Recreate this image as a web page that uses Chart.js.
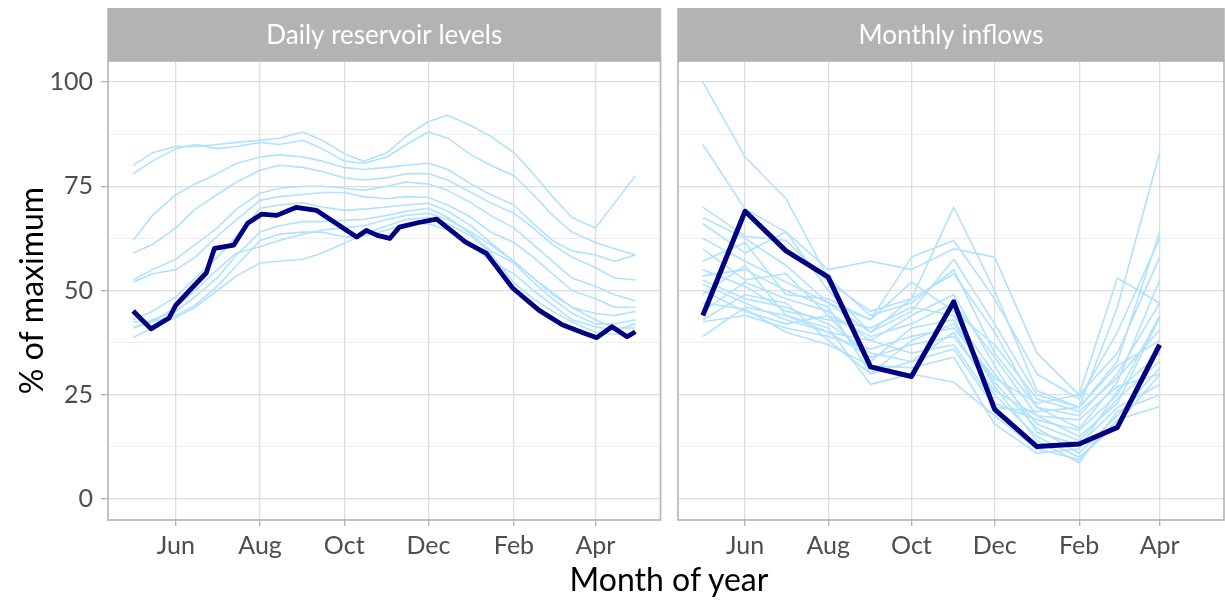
<!DOCTYPE html>
<html>
<head>
<meta charset="utf-8">
<script src="https://cdn.jsdelivr.net/npm/chart.js@4.4.1/dist/chart.umd.min.js"></script>
<style>
  html, body { margin: 0; padding: 0; background: #ffffff; }
  #wrap { position: relative; width: 1225px; height: 600px; background: #ffffff; overflow: hidden; }
  #c1 { position: absolute; left: 0; top: 0; }
  #c2 { position: absolute; left: 668px; top: 0; }
  #xtitle { position: absolute; left: 0; width: 1338px; top: 560px; text-align: center;
            font-family: Lato, "Open Sans", sans-serif; font-size: 32px; color: #000; line-height: 38px; }
</style>
</head>
<body>
<div id="wrap">
  <canvas id="c1" width="668" height="600"></canvas>
  <canvas id="c2" width="557" height="600"></canvas>
  <div id="xtitle">Month of year</div>
</div>
<script>
// ---------------- data ----------------
const panelTitles = ['Daily reservoir levels', 'Monthly inflows'];
const yAxisTitle = '% of maximum';
const tickDays = [31, 92, 153, 214, 276, 335];            // day of year starting 1 May
const tickLabels = ['Jun', 'Aug', 'Oct', 'Dec', 'Feb', 'Apr'];
const yMajorTicks = [0, 25, 50, 75, 100];

// Daily reservoir levels (days since 1 May), sampled roughly twice a month
const levelDays = [0,14,31,45,61,75,92,106,123,137,153,167,184,198,214,228,245,259,276,290,304,318,335,349,364];
const levelA = [80,83,84.5,84.5,85,85.5,86,86.5,88,86,82.8,81,83,87,90.5,92,89.5,87,83,78,72.5,67.5,65,71,77.5];
const levelB = [78,81,84,85,84,84.5,85.5,85,86,84,81,80.5,82,85,88,86.5,82.5,80,77.5,73,68,64,61.5,60,58.5];
const levelC = [62,68,73,75.5,78,80.5,82,82.5,82,81,79.5,79,79.5,80,80.5,79,75.5,73,70.5,66,62,59.5,58.5,57,58.5];
const levelD = [59,61,65,69.5,73,76,78.8,80,79.5,78.5,77,76.5,77,78,78,76.5,73.5,71,68.5,65,61,58,55.5,53,52.5];
const levelE = [52.5,55,57.5,61,65,69.5,73.3,74.5,75,75,74.5,74,75,76,75.5,74,71,68,65,61,57,53,51,49,47.5];
const levelF = [52,54,55,58,63,67,71.6,72.5,73,73.5,73.5,72.5,72,72.5,72.3,70.5,67.5,64,61.5,58,54,50,48,46,46];
const levelG = [43,45,48.5,53,58,63,69.7,70.5,71,70,69.2,69.5,70,70.5,70.9,69,65.5,61.5,57,53,49,46,44.5,44,45];
const levelH = [41,43,45,48.5,53,58.5,64,65.5,66.5,66.5,66.8,67,68,69,69.7,67.5,63.5,59.5,56.6,52,48,44.5,42,42,43];
const levelI = [41,42.5,44,46.5,51,56,62,63.5,64,64,62.8,63,64.5,66,66,64.5,61,57,54,50,46.5,43,41.3,40.5,42];
const levelJ = [38.7,41,43.5,46,50,53.5,56.6,57,57.5,59,61.3,63.5,65.5,67,67.5,66,63,59,51.8,48,45,42.5,40,39.5,39.5];
const levelK = [42.5,42.5,46,50,55,59,60.5,62,63.5,64.5,65,65.5,67,68,68.5,67,64,61,57,53,49.5,46,43,41,41];

// Highlighted year, daily levels
const currentDays = [0,13,26,31,46,53,59,73,83,93,104,118,133,144,162,169,177,186,193,207,220,241,256,275,294,311,326,336,347,358,364];
const currentLevels = [45.1,40.8,43.4,46.5,51.8,54.2,60.1,60.9,66.1,68.3,68.0,69.9,69.2,66.8,62.8,64.4,63.2,62.5,65.2,66.3,67.1,61.6,58.9,50.6,45.3,41.8,39.9,38.7,41.3,38.9,40.1];

// Monthly inflows (first of each month, May..Apr)
const inflowDays = [0,31,61,92,123,153,184,214,245,276,304,335];
const inflow01 = [100,82,72,53,44,47,55,35,22,20,30,47];
const inflow02 = [85,69.5,64,50,40,45,57.5,42,25,22,46,83];
const inflow03 = [70,63,62,52,45,48,70,50,26,22,33,64];
const inflow04 = [67.5,62.5,56,47,43,58,62,48,30,24,40,62.5];
const inflow05 = [66,59,64,55,57,55,60,58,35,25,53,47];
const inflow06 = [62.5,57,52,47,40,48,54,40,22,17,28,52.5];
const inflow07 = [60,52.5,54,44,39,42,47,34,20,15,23,43.5];
const inflow08 = [57,61.5,49,48,43,52,45,37,24,21,29,40.6];
const inflow09 = [55,51,45,43,41,46,44,30,18,14,24,33];
const inflow10 = [53.5,55,50,46,30,38,42,28,17,11,20,31.5];
const inflow11 = [52.5,48,46,42,35,33,40,25,15,10,18,29.8];
const inflow12 = [51.5,47,43,40,38,44,49,32,16,13,22,27.4];
const inflow13 = [50,45,42,44,33,41,43,27,14,8.8,21,25];
const inflow14 = [49,56,44,41,27.5,30,28,20,12,9.5,19,22.2];
const inflow15 = [47,45.5,40,37,32,31.5,34,18,11,12,26,35];
const inflow16 = [45,52,48,45,38,35,37,23,19,16.5,25,44];
const inflow17 = [43,49,47,38,30,33,36,22,21,22,32,38];
const inflow18 = [42.5,44,41,39,36,39,41,29,23,25,35,58];
const inflow19 = [39,46,44,40,34,37,39,26,20,19,27,30];
const currentInflow = [44,69,59.5,53.2,31.7,29.4,47.3,21.5,12.6,13.2,17.2,37];

// ---------------- styling ----------------
const FONT = 'Lato, "Open Sans", sans-serif';
const LIGHT = '#B0E2FF';
const DARK = '#000080';
const BORDER = '#B3B3B3';
const X_MIN = -18.2, X_MAX = 382.2;

function pts(xs, ys) { return xs.map((x, i) => ({ x: x, y: ys[i] })); }

function lightSet(xs, ys) {
  return { data: pts(xs, ys), borderColor: LIGHT, borderWidth: 1.6, pointRadius: 0,
           tension: 0, borderJoinStyle: 'round', order: 1 };
}
function darkSet(xs, ys, w) {
  return { data: pts(xs, ys), borderColor: DARK, borderWidth: w, pointRadius: 0,
           tension: 0, borderJoinStyle: 'round', borderCapStyle: 'butt', order: 0 };
}

const stripPlugin = {
  id: 'strip',
  beforeDraw(chart, args, opts) {
    const ca = chart.chartArea, ctx = chart.ctx;
    ctx.save();
    ctx.fillStyle = BORDER;
    ctx.fillRect(ca.left - 0.75, 8, ca.right - ca.left + 1.5, ca.top - 8);
    ctx.fillStyle = '#ffffff';
    ctx.font = '26px ' + FONT;
    ctx.textAlign = 'center';
    ctx.textBaseline = 'middle';
    ctx.fillText(opts.text, (ca.left + ca.right) / 2, (8 + ca.top) / 2 + 1);
    ctx.restore();
  },
  afterDraw(chart) {
    const ca = chart.chartArea, ctx = chart.ctx;
    ctx.save();
    ctx.strokeStyle = BORDER;
    ctx.lineWidth = 1.6;
    ctx.strokeRect(ca.left, ca.top, ca.right - ca.left, ca.bottom - ca.top);
    ctx.restore();
  }
};

const yAllTicks = [0, 12.5, 25, 37.5, 50, 62.5, 75, 87.5, 100];
function isMajorY(v) { return yMajorTicks.indexOf(v) >= 0; }

function makeOptions(showY, stripText, padRight) {
  return {
    responsive: false,
    animation: false,
    devicePixelRatio: 1,
    layout: { padding: { top: 61, right: padRight, bottom: 0, left: 0 } },
    plugins: { legend: { display: false }, tooltip: { enabled: false }, strip: { text: stripText } },
    scales: {
      x: {
        type: 'linear', min: X_MIN, max: X_MAX,
        afterBuildTicks(scale) { scale.ticks = tickDays.map(v => ({ value: v })); },
        afterFit(scale) { scale.height = 80; },
        ticks: {
          autoSkip: false, maxRotation: 0, padding: 5, color: '#4D4D4D',
          font: { family: FONT, size: 25 },
          callback(v) { const i = tickDays.indexOf(v); return i >= 0 ? tickLabels[i] : ''; }
        },
        grid: { color: '#DEDEDE', lineWidth: 1.3, tickColor: BORDER, tickLength: 6, drawTicks: true },
        border: { display: false }
      },
      y: {
        type: 'linear', min: -5, max: 105,
        afterBuildTicks(scale) { scale.ticks = yAllTicks.map(v => ({ value: v })); },
        afterFit(scale) { scale.width = showY ? 108 : 10; },
        ticks: {
          display: showY, autoSkip: false, padding: 8, color: '#4D4D4D',
          font: { family: FONT, size: 25 },
          callback(v) { return isMajorY(v) ? String(v) : ''; }
        },
        grid: {
          color: ctx => isMajorY(ctx.tick.value) ? '#DEDEDE' : '#EBEBEB',
          lineWidth: ctx => isMajorY(ctx.tick.value) ? 1.3 : 0.9,
          tickColor: ctx => (showY && isMajorY(ctx.tick.value)) ? BORDER : 'rgba(0,0,0,0)',
          tickLength: 7, drawTicks: showY
        },
        border: { display: false },
        title: {
          display: showY, text: yAxisTitle, color: '#000000',
          font: { family: FONT, size: 32 }, padding: { top: 13, bottom: 0 }
        }
      }
    }
  };
}

const levelSeries = [levelA, levelB, levelC, levelD, levelE, levelF, levelG, levelH, levelI, levelJ, levelK];
const inflowSeries = [inflow01, inflow02, inflow03, inflow04, inflow05, inflow06, inflow07, inflow08, inflow09,
                      inflow10, inflow11, inflow12, inflow13, inflow14, inflow15, inflow16, inflow17, inflow18, inflow19];

new Chart(document.getElementById('c1'), {
  type: 'line',
  data: { datasets: [darkSet(currentDays, currentLevels, 4.8)].concat(levelSeries.map(s => lightSet(levelDays, s))) },
  options: makeOptions(true, panelTitles[0], 7.5),
  plugins: [stripPlugin]
});

new Chart(document.getElementById('c2'), {
  type: 'line',
  data: { datasets: [darkSet(inflowDays, currentInflow, 5)].concat(inflowSeries.map(s => lightSet(inflowDays, s))) },
  options: makeOptions(false, panelTitles[1], 1),
  plugins: [stripPlugin]
});
</script>
</body>
</html>
